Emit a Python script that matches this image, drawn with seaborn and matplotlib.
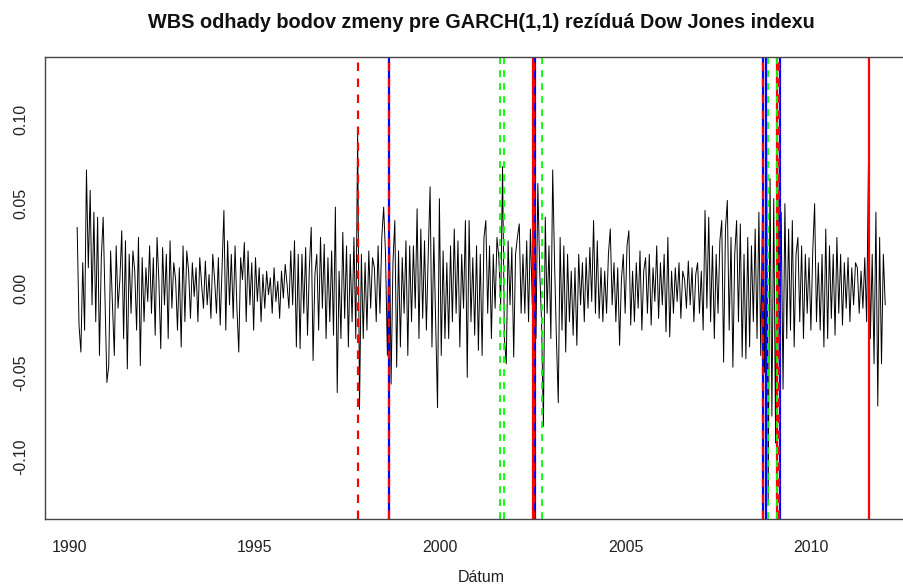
import matplotlib
matplotlib.use("Agg")
import matplotlib.pyplot as plt
import seaborn as sns
import numpy as np
import pandas as pd

sns.set_style("white")
plt.rcParams['font.family'] = ['Liberation Sans', 'DejaVu Sans']

# GARCH(1,1) residuals (about 20 values per year)
resid = [
    # 1990
    0.036, -0.022, -0.038, 0.015, -0.025, 0.070, 0.012, 0.058, -0.010, 0.045,
    -0.020, 0.042, -0.040, 0.018, 0.042, -0.006, -0.056, -0.046, 0.022, -0.010,
    # 1991
    -0.040, 0.025, -0.012, 0.005, 0.034, -0.030, 0.028, -0.048, 0.020, -0.015,
    0.022, 0.010, -0.025, 0.030, -0.046, 0.018, -0.020, 0.012, -0.008, 0.025,
    # 1992
    -0.015, 0.018, -0.028, 0.030, 0.004, -0.036, 0.024, -0.010, 0.020, -0.030,
    0.028, -0.012, 0.015, 0.005, -0.025, 0.012, -0.035, 0.025, -0.020, 0.022,
    # 1993
    0.010, -0.018, 0.015, -0.005, 0.012, -0.020, 0.018, 0.002, -0.012, 0.016,
    -0.010, 0.008, -0.018, 0.020, 0.005, -0.015, 0.018, -0.022, 0.012, 0.046,
    # 1994
    -0.025, 0.028, -0.010, 0.020, -0.018, 0.025, -0.012, -0.038, 0.018, 0.005,
    0.027, -0.020, 0.022, -0.010, 0.015, -0.025, 0.018, -0.008, 0.012, -0.020,
    # 1995
    0.008, -0.012, 0.010, -0.004, 0.006, -0.015, 0.012, -0.008, 0.004, -0.018,
    0.010, -0.006, 0.014, 0.002, -0.012, 0.022, -0.010, 0.028, -0.035, 0.020,
    # 1996
    -0.036, 0.020, -0.015, 0.024, -0.028, 0.012, 0.036, -0.043, 0.008, 0.020,
    -0.025, 0.030, -0.012, 0.026, -0.030, 0.018, -0.020, 0.022, -0.028, 0.048,
    # 1997
    -0.062, 0.010, -0.030, 0.033, -0.018, 0.025, -0.035, 0.020, -0.020, 0.030,
    -0.030, 0.092, -0.072, 0.020, -0.030, 0.015, -0.025, 0.022, -0.012, 0.018,
    # 1998
    0.012, -0.020, 0.025, -0.015, 0.030, 0.048, 0.020, -0.040, 0.047, -0.057,
    0.015, 0.040, -0.047, 0.022, -0.035, 0.018, -0.015, 0.028, -0.040, 0.025,
    # 1999
    -0.020, 0.025, -0.012, 0.047, -0.030, 0.035, -0.018, 0.028, -0.025, 0.020,
    0.060, -0.035, 0.030, -0.020, -0.071, 0.053, -0.040, 0.022, -0.030, 0.015,
    # 2000
    -0.030, 0.025, -0.020, 0.035, -0.015, 0.028, -0.035, 0.020, -0.012, 0.040,
    -0.053, 0.040, -0.020, 0.018, -0.028, 0.025, -0.037, 0.020, -0.040, 0.030,
    # 2001
    0.040, -0.015, 0.025, -0.030, 0.020, -0.012, 0.030, 0.018, -0.010, 0.072,
    -0.030, -0.045, 0.028, -0.010, 0.024, -0.041, 0.020, 0.030, 0.038, -0.015,
    # 2002
    0.020, -0.015, 0.028, -0.020, 0.035, -0.010, 0.025, -0.030, 0.062, 0.010,
    -0.020, -0.082, 0.042, -0.015, 0.025, -0.030, 0.070, 0.015, -0.030, -0.068,
    # 2003
    0.030, -0.025, 0.025, -0.038, 0.020, -0.020, 0.010, -0.028, 0.012, -0.034,
    0.020, -0.010, 0.015, -0.020, 0.018, -0.012, 0.024, -0.008, 0.040, -0.015,
    # 2004
    0.028, -0.018, 0.012, -0.020, 0.010, -0.015, 0.020, 0.035, -0.010, 0.015,
    -0.020, 0.012, -0.034, 0.005, 0.020, -0.015, 0.025, 0.034, -0.022, 0.010,
    # 2005
    -0.020, 0.015, -0.012, 0.022, -0.025, 0.010, 0.018, -0.015, 0.020, -0.022,
    0.012, -0.008, 0.025, -0.018, 0.015, -0.010, 0.020, -0.026, 0.030, -0.029,
    # 2006
    0.010, -0.015, 0.012, -0.008, 0.015, -0.018, 0.010, 0.005, -0.012, 0.016,
    -0.010, 0.012, -0.020, 0.008, 0.015, -0.015, 0.010, -0.025, 0.046, -0.012,
    # 2007
    0.042, -0.020, 0.025, -0.030, 0.020, -0.015, 0.028, 0.040, -0.044, 0.035,
    0.052, -0.025, 0.030, -0.047, 0.020, 0.040, -0.020, 0.038, -0.041, 0.020,
    # 2008
    -0.042, 0.030, -0.035, 0.025, -0.020, 0.035, -0.030, 0.045, -0.040, 0.052,
    -0.050, 0.123, -0.127, 0.065, -0.076, 0.053, -0.092, 0.092, -0.050, 0.045,
    # 2009
    -0.060, 0.050, -0.030, 0.035, -0.025, 0.040, -0.035, 0.020, 0.030, -0.020,
    0.025, -0.030, 0.020, -0.015, 0.018, -0.025, 0.022, 0.050, -0.020, 0.015,
    # 2010
    -0.025, 0.020, -0.035, 0.035, -0.030, 0.025, -0.018, 0.020, -0.028, 0.030,
    -0.015, 0.020, -0.022, 0.015, -0.012, 0.018, -0.020, 0.012, -0.010, 0.015,
    # 2011
    0.012, -0.015, 0.010, -0.012, 0.018, -0.020, 0.075, -0.030, 0.020, -0.045,
    0.045, -0.070, 0.030, -0.045, 0.020, -0.010,
]
start_year, end_year = 1990.22, 2012.0

# change points (decimal years)
blue_solid = [1998.625, 2002.55, 2008.70, 2008.79, 2009.17]
red_solid = [2002.52, 2009.08, 2011.57]
red_dashed = [1997.78, 1998.625, 2002.53, 2008.70, 2009.15]
green_dashed = [2001.62, 2001.72, 2002.76, 2008.84, 2009.08]

year_ticks = [1990, 1995, 2000, 2005, 2010]
y_ticks = [-0.10, -0.05, 0.00, 0.05, 0.10]

df = pd.DataFrame({"t": np.linspace(start_year, end_year, len(resid)), "r": resid})

fig = plt.figure(figsize=(9.04, 5.88), dpi=100)
ax = fig.add_axes([45 / 904, 69 / 588, 872 / 904, 462 / 588])

sns.lineplot(data=df, x="t", y="r", color="black", linewidth=0.7,
             estimator=None, sort=False, ax=ax)

dash = (0, (3.8, 3.4))
for x in blue_solid:
    ax.axvline(x, color="#0000FF", linewidth=1.6)
for x in red_solid:
    ax.axvline(x, color="#FF0000", linewidth=1.6)
for x in red_dashed:
    ax.axvline(x, color="#FF0000", linewidth=1.6, linestyle=dash)
for x in green_dashed:
    ax.axvline(x, color="#00FF00", linewidth=1.3, linestyle=dash)

ax.set_xlim(1989.353, 2012.857)
ax.set_ylim(-0.137, 0.137)
ax.set_xticks(year_ticks)
ax.set_xticklabels([str(y) for y in year_ticks])
ax.set_yticks(y_ticks)
ax.set_yticklabels([f"{v:.2f}" for v in y_ticks], rotation=90, va="center")
ax.tick_params(axis="both", length=0, labelsize=11.5, labelcolor="#222222")
ax.tick_params(axis="x", pad=15)
ax.tick_params(axis="y", pad=12)
ax.set_xlabel("")
ax.set_ylabel("")
for s in ax.spines.values():
    s.set_color("#444444")
    s.set_linewidth(1.0)

fig.text(481 / 904, 1 - 22 / 588,
         "WBS odhady bodov zmeny pre GARCH(1,1) rezíduá Dow Jones indexu",
         ha="center", va="center", fontsize=14.3, fontweight="bold", color="#111111")
fig.text(481 / 904, 1 - 578 / 588, "Dátum", ha="center", va="center",
         fontsize=11.5, color="#222222")

fig.savefig("out.png", dpi=100)
